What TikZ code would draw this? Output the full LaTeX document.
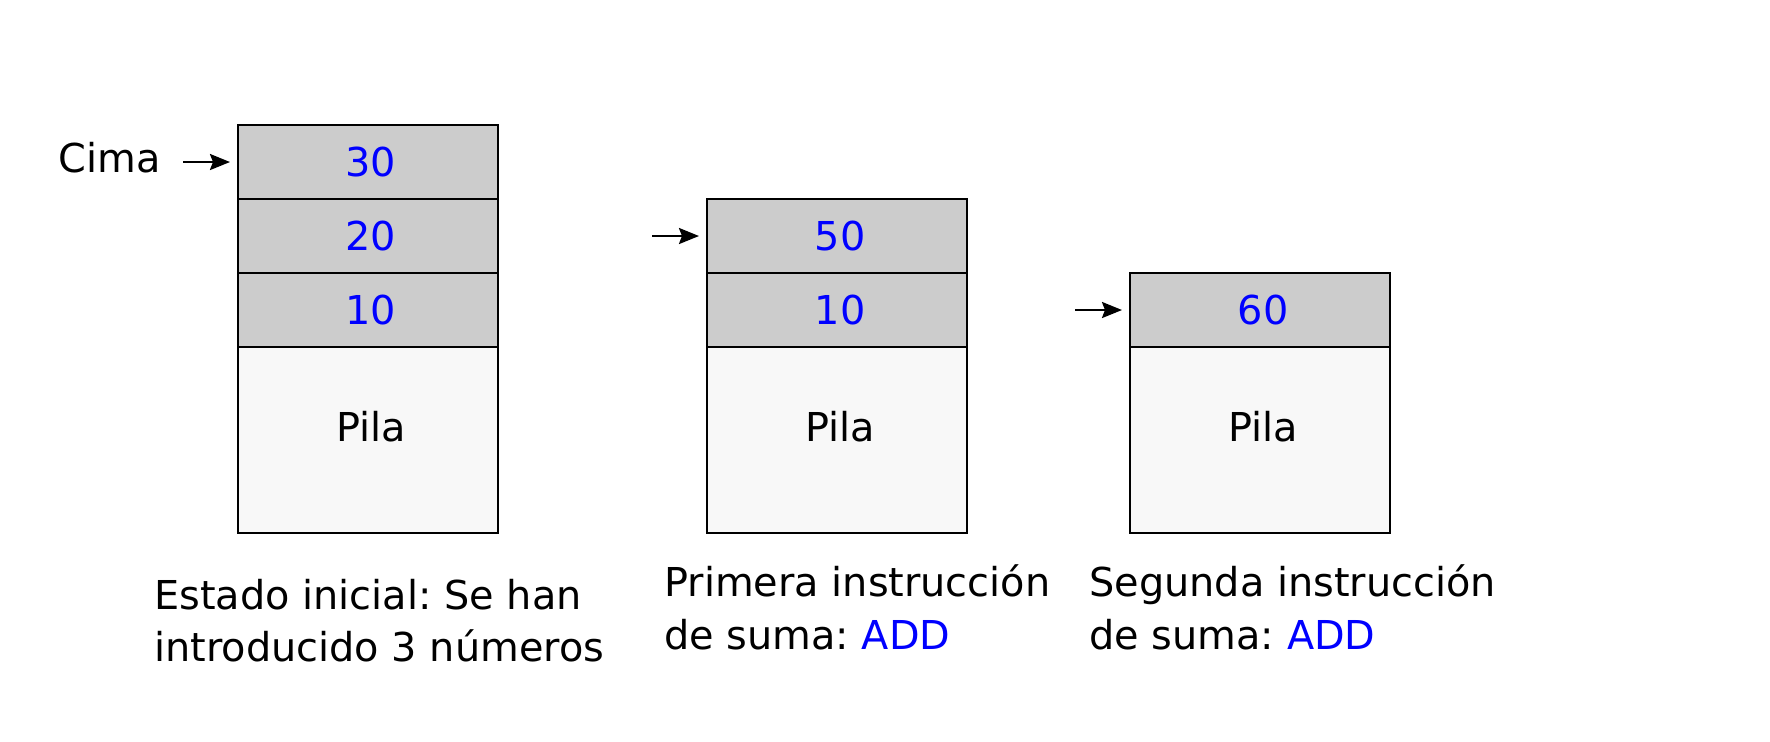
\documentclass[tikz,border=0pt]{standalone}
\usepackage{fontspec}
\setmainfont{DejaVu Sans}
\usetikzlibrary{arrows.meta}
\definecolor{cellgray}{HTML}{CCCCCC}
\definecolor{pilafill}{HTML}{F8F8F8}
\definecolor{numblue}{HTML}{0000FF}
\tikzset{
  cell/.style={draw=black, line width=1pt, fill=cellgray, minimum width=130pt, minimum height=37pt, inner sep=0pt, anchor=north west},
  pilabox/.style={draw=black, line width=1pt, fill=pilafill, minimum width=130pt, minimum height=93pt, inner sep=0pt, anchor=north west},
  numtext/.style={text=numblue, inner sep=0pt},
  plaintext/.style={text=black, inner sep=0pt},
  caption/.style={inner sep=0pt, anchor=base west, align=left},
  toparrow/.style={-{Stealth[length=10pt,width=8pt,inset=1.5pt]}, line width=1.2pt, shorten >=3.5pt},
}
\begin{document}
\frenchspacing
\begin{tikzpicture}[x=0.5pt,y=-0.5pt, font=\fontsize{19.9pt}{26.35pt}\selectfont]
\useasboundingbox (0,0) rectangle (1770,741);
% stack 1
\node[cell] (s1a) at (237,124) {};
\node[cell] (s1b) at (237,198) {};
\node[cell] (s1c) at (237,272) {};
\node[pilabox] (s1p) at (237,346) {};
\node[numtext] (t1a) at ([xshift=1.5pt]s1a.center) {30};
\node[numtext] (t1b) at ([xshift=1.5pt]s1b.center) {20};
\node[numtext] (t1c) at ([xshift=1.5pt]s1c.center) {10};
\node[plaintext] (t1p) at ([xshift=1.5pt,yshift=6.5pt]s1p.center) {Pila};
\node[plaintext, anchor=base west] (cima) at (58,172) {Cima};
\coordinate (c1) at ([xshift=-26.8pt]s1a.west);
\draw[toparrow] (c1) -- (s1a.west);
% stack 2
\node[cell] (s2a) at (706,198) {};
\node[cell] (s2b) at (706,272) {};
\node[pilabox] (s2p) at (706,346) {};
\node[numtext] (t2a) at ([xshift=1.5pt]s2a.center) {50};
\node[numtext] (t2b) at ([xshift=1.5pt]s2b.center) {10};
\node[plaintext] (t2p) at ([xshift=1.5pt,yshift=6.5pt]s2p.center) {Pila};
\coordinate (c2) at ([xshift=-26.8pt]s2a.west);
\draw[toparrow] (c2) -- (s2a.west);
% stack 3
\node[cell] (s3a) at (1129,272) {};
\node[pilabox] (s3p) at (1129,346) {};
\node[numtext] (t3a) at ([xshift=1.5pt]s3a.center) {60};
\node[plaintext] (t3p) at ([xshift=1.5pt,yshift=6.5pt]s3p.center) {Pila};
\coordinate (c3) at ([xshift=-26.8pt]s3a.west);
\draw[toparrow] (c3) -- (s3a.west);
% captions
\node[caption] (cap1) at (154,661.7) {Estado inicial: Se han\\introducido 3 números};
\node[caption] (cap2) at (664,649) {Primera instrucción\\de suma: \textcolor{numblue}{ADD}};
\node[caption] (cap3) at (1089,649) {Segunda instrucción\\de suma: \textcolor{numblue}{ADD}};
\end{tikzpicture}
\end{document}
